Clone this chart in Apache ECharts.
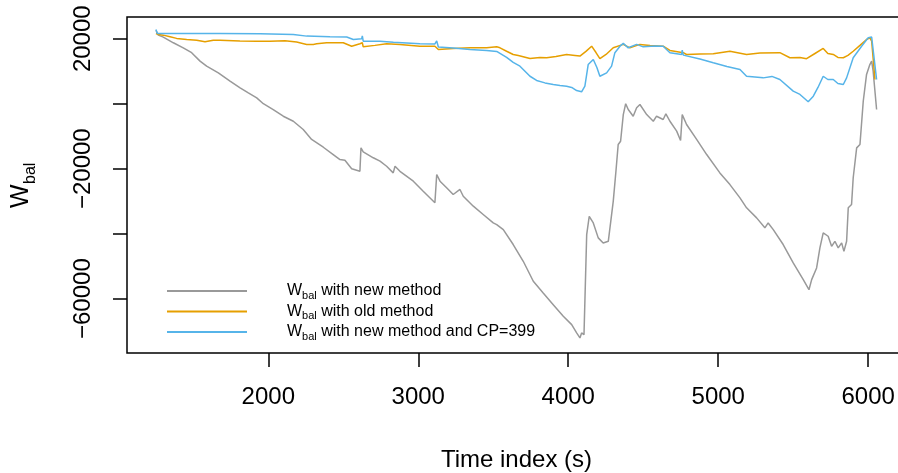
<!DOCTYPE html>
<html>
<head>
<meta charset="utf-8">
<script src="https://cdn.jsdelivr.net/npm/echarts@6/dist/echarts.min.js"></script>
<style>
  html, body { margin: 0; padding: 0; background: #fff; }
  #chart { width: 898px; height: 473px; }
</style>
</head>
<body>
<div id="chart"></div>
<script>
// W'bal balance over the session, three ways of computing it.
// Time in seconds, balance in joules.

const newTime = [1251,1267,1300,1367,1433,1489,1545,1589,1667,1745,
  1812,1867,1923,1967,2033,2100,2167,2233,2289,2367,
  2433,2478,2511,2556,2611,2618,2633,2700,2745,2789,
  2833,2845,2878,2967,3033,3111,3123,3145,3189,3233,
  3278,3300,3367,3433,3500,3523,3567,3633,3700,3767,
  3833,3900,3967,4023,4056,4078,4089,4105,4123,4140,
  4167,4200,4233,4267,4300,4318,4333,4349,4367,4383,
  4400,4433,4456,4478,4523,4567,4589,4633,4651,4678,
  4723,4749,4760,4789,4856,4923,5011,5078,5145,5189,
  5256,5311,5333,5367,5433,5500,5567,5605,5623,5656,
  5678,5700,5733,5756,5778,5800,5823,5838,5856,5867,
  5889,5900,5923,5945,5967,5989,6011,6023,6033,6056];
const newW = [22600,21100,20500,18750,17200,15700,13100,11550,9500,6950,
  4900,3350,1800,0,-1800,-3850,-5400,-7950,-11000,-13400,
  -15650,-17200,-17400,-20050,-20800,-13600,-14800,-16650,-17700,-19250,
  -21300,-19250,-20800,-23850,-26950,-30500,-21800,-23850,-25900,-27950,
  -26400,-28500,-31550,-34100,-36700,-37200,-38750,-43350,-48500,-54650,
  -58250,-61850,-65450,-68000,-70550,-72100,-70550,-71100,-40300,-34650,
  -36700,-41300,-42850,-42350,-30050,-20800,-12550,-11550,-3350,0,
  -1800,-3850,-1250,-250,-3350,-5400,-3850,-4850,-3100,-5400,
  -8450,-11350,-3350,-6400,-11000,-15650,-21300,-24900,-29000,-32050,
  -35150,-38200,-36700,-38750,-43350,-49000,-54150,-57250,-54150,-50550,
  -44400,-39750,-40800,-43900,-42350,-44400,-42850,-45450,-42350,-32050,
  -31050,-22800,-13600,-12550,750,9000,12050,13100,10000,-1800];

const oldTime = [1251,1267,1300,1345,1389,1456,1523,1578,1633,1678,
  1811,1923,2011,2111,2189,2256,2300,2323,2389,2500,
  2556,2611,2627,2633,2711,2789,2878,3011,3111,3134,
  3233,3345,3456,3523,3545,3589,3633,3667,3745,3811,
  3856,3918,3989,4045,4078,4118,4156,4185,4211,4252,
  4300,4367,4411,4478,4545,4633,4678,4767,4789,4878,
  4967,5078,5189,5278,5411,5478,5545,5589,5645,5700,
  5731,5767,5798,5834,5865,5900,5945,5989,6011,6023,6045];
const oldW = [21600,21300,21100,20600,20100,19750,19550,19050,19550,19550,
  19300,19250,19250,19400,19000,18250,18250,18450,18750,18750,
  17700,18450,18750,17500,17950,18450,18250,17700,17700,16700,
  17000,17200,17200,17500,17200,16150,15150,14850,13900,14250,
  14150,14550,15150,14850,14650,16100,17700,15750,13850,15150,
  17200,18250,17200,18250,17950,17700,16400,15700,15150,15300,
  15350,16150,15150,15600,15700,14150,14250,13850,15450,17000,
  15450,15150,14250,14150,14850,16150,17950,19750,20250,19250,7450];

const cpTime = [1251,1260,1411,1678,1945,2167,2256,2411,2523,2567,
  2623,2627,2633,2745,2834,3011,3111,3123,3134,3233,
  3345,3456,3523,3589,3633,3678,3745,3789,3845,3900,
  3945,3989,4023,4056,4089,4111,4133,4167,4191,4211,
  4256,4289,4311,4345,4367,4400,4456,4500,4578,4633,
  4678,4756,4760,4767,4878,4967,5058,5145,5189,5300,
  5358,5411,5500,5545,5600,5634,5665,5700,5731,5767,
  5798,5834,5856,5900,5956,6000,6023,6056];
const cpW = [22850,21600,21600,21600,21550,21300,20800,20600,20550,19750,
  20000,20850,19250,19250,18950,18450,18400,19300,17450,17150,
  16700,16400,16100,14250,12700,11550,8450,7150,6400,5900,
  5600,5400,5000,4050,3650,5400,12050,13600,11150,8450,
  9500,11550,15700,17700,18550,17200,18250,17500,17750,17700,
  15700,15150,16500,14950,13750,12600,11450,10550,8450,7950,
  8400,7450,3850,2850,600,2300,5000,8450,7450,7450,
  6200,5900,7950,14150,17700,20300,20500,7450];

const seriesNames = ['new', 'old', 'cp399'];
const legendLabels = [' with new method', ' with old method', ' with new method and CP=399'];
const seriesColors = ['#999999', '#E69F00', '#56B4E9'];

const xTicks = [2000, 3000, 4000, 5000, 6000];
const yTicks = [-60000, -40000, -20000, 0, 20000];
const yLabelValues = [-60000, -20000, 20000];

const FONT = '"Liberation Sans", Arial, Helvetica, sans-serif';

function pairs(t, v) { return t.map((x, i) => [x, v[i]]); }

const chart = echarts.init(document.getElementById('chart'), null, { renderer: 'canvas' });

const lineSeries = [[newTime, newW], [oldTime, oldW], [cpTime, cpW]].map((d, i) => ({
  name: seriesNames[i],
  type: 'line',
  data: pairs(d[0], d[1]),
  showSymbol: false,
  symbol: 'none',
  color: seriesColors[i],
  lineStyle: { width: 1.5, color: seriesColors[i] },
  z: 2 + i
}));

chart.setOption({
  animation: false,
  backgroundColor: '#ffffff',
  grid: {
    left: 127, top: 17, width: 779, height: 336,
    containLabel: false, outerBoundsMode: 'none',
    show: true, borderColor: '#000', borderWidth: 1.5, backgroundColor: 'transparent'
  },
  xAxis: {
    type: 'value', min: 1058, max: 6252,
    axisLine: { show: false, onZero: false },
    splitLine: { show: false },
    axisTick: { show: true, length: 14, customValues: xTicks, lineStyle: { color: '#000', width: 1.5 } },
    axisLabel: {
      customValues: xTicks, margin: 32, fontSize: 24, color: '#000', fontFamily: FONT,
      formatter: v => String(v)
    },
    name: 'Time index (s)', nameLocation: 'middle', nameGap: 95,
    nameTextStyle: { fontSize: 24, color: '#000', fontFamily: FONT }
  },
  yAxis: {
    type: 'value', min: -76735, max: 26685,
    axisLine: { show: false, onZero: false },
    splitLine: { show: false },
    axisTick: { show: true, length: 14, customValues: yTicks, lineStyle: { color: '#000', width: 1.5 } },
    axisLabel: {
      customValues: yLabelValues, rotate: 90, margin: 32, fontSize: 24, color: '#000', fontFamily: FONT,
      formatter: v => (v < 0 ? '\u2212' + Math.abs(v) : String(v))
    }
  },
  legend: {
    orient: 'vertical', left: 167, top: 281, padding: 0,
    itemWidth: 80, itemHeight: 2, itemGap: 0.5, icon: 'rect',
    data: seriesNames,
    formatter: name => '{w|W}{s|bal}{t|' + legendLabels[seriesNames.indexOf(name)] + '}',
    textStyle: {
      color: '#000', fontFamily: FONT, fontSize: 16, lineHeight: 20, padding: [0, 0, 0, 35],
      rich: {
        w: { fontSize: 16, fontFamily: FONT, color: '#000', lineHeight: 20 },
        s: { fontSize: 11, fontFamily: FONT, color: '#000', lineHeight: 9, verticalAlign: 'bottom' },
        t: { fontSize: 16, fontFamily: FONT, color: '#000', lineHeight: 20 }
      }
    }
  },
  graphic: [{
    type: 'group', x: 21, y: 185.5, rotation: Math.PI / 2,
    children: [
      { type: 'text', x: -22.5, y: 0,
        style: { text: 'W', fontSize: 25, fontFamily: FONT, fill: '#000', align: 'left', verticalAlign: 'middle' } },
      { type: 'text', x: 1.5, y: 9.4,
        style: { text: 'bal', fontSize: 16, fontFamily: FONT, fill: '#000', align: 'left', verticalAlign: 'middle' } }
    ]
  }],
  series: lineSeries
});
</script>
</body>
</html>
